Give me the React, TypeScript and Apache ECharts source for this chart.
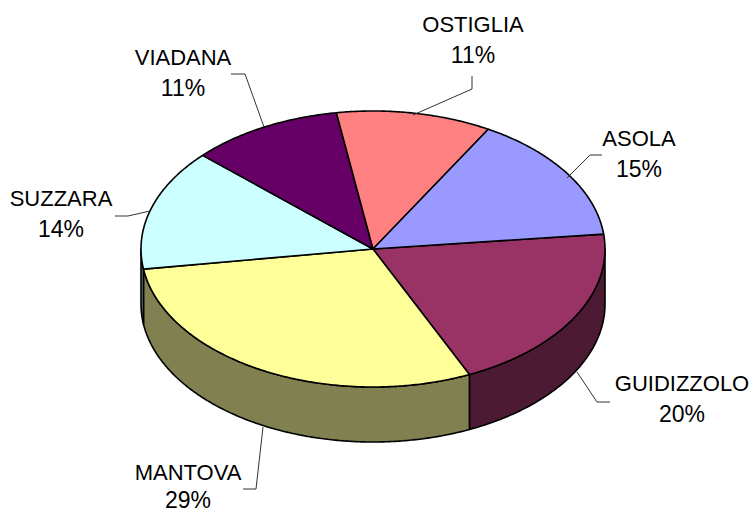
import React, { useEffect, useRef } from "react";
import * as echarts from "echarts";

const categories = ["GUIDIZZOLO", "MANTOVA", "SUZZARA", "VIADANA", "OSTIGLIA", "ASOLA"];
const values = [19.9, 29.49, 14.2, 10.6, 10.8, 15];
const topColors = ["#993366", "#FFFF99", "#CCFFFF", "#660066", "#FF8080", "#9999FF"];
const wallColors = ["#4D1A33", "#808050", "#668080", "#330033", "#804040", "#4D4D80"];
const labelCenters = [[682, 383], [188, 472], [61, 198], [183, 57], [473, 24], [639, 138]];
const percentCentersY = [414, 500, 229, 88, 55, 169];
const leaders = [
  [[610, 402], [597, 402], [577, 372]],
  [[243, 489], [256, 489], [263, 427]],
  [[115, 216], [128, 216], [150, 211]],
  [[231, 74], [245, 74], [264, 127]],
  [[472, 76], [472, 89], [413, 115]],
  [[602, 155], [590, 155], [567, 178]],
];

const CX = 373, CY = 249, RX = 232, RY = 138, DEPTH = 55, START = -6.2;
const FONT = '"Liberation Sans", Arial, sans-serif';
const total = values.reduce((a, b) => a + b, 0);
const angles: number[] = [START];
values.forEach((v, i) => angles.push(angles[i] + (v / total) * 360));

const pt = (deg: number, dy = 0) => {
  const r = (deg * Math.PI) / 180;
  return [CX + RX * Math.cos(r), CY + RY * Math.sin(r) + dy];
};
const arc = (a0: number, a1: number, dy = 0) => {
  const n = Math.max(2, Math.ceil(Math.abs(a1 - a0) * 2));
  return Array.from({ length: n + 1 }, (_, k) => pt(a0 + ((a1 - a0) * k) / n, dy));
};
const lineStyle = { stroke: "#000", lineWidth: 1.6, lineJoin: "round" };

export default function App() {
  const ref = useRef<HTMLDivElement>(null);
  useEffect(() => {
    const chart = echarts.init(ref.current!, null, { renderer: "svg" });
    const seriesData = values.map((v, i) => ({ name: categories[i], value: [i, v] }));
    chart.setOption({
      animation: false,
      backgroundColor: "#fff",
      series: [
        {
          type: "custom",
          coordinateSystem: "none",
          silent: true,
          z: 1,
          data: seriesData,
          renderItem: (p: any) => {
            const i = p.dataIndex;
            const a0 = Math.max(angles[i], 0);
            const a1 = Math.min(angles[i + 1], 180);
            if (a1 <= a0) return { type: "group", children: [] };
            const points = [...arc(a0, a1), ...arc(a1, a0, DEPTH)];
            return { type: "polygon", shape: { points }, style: { fill: wallColors[i], ...lineStyle } };
          },
        },
        {
          type: "custom",
          coordinateSystem: "none",
          silent: true,
          z: 2,
          data: seriesData,
          renderItem: (p: any) => {
            const i = p.dataIndex;
            const points = [[CX, CY], ...arc(angles[i], angles[i + 1])];
            return { type: "polygon", shape: { points }, style: { fill: topColors[i], ...lineStyle } };
          },
        },
      ],
      graphic: {
        elements: [
          ...leaders.map((points) => ({
            type: "polyline",
            z: 3,
            silent: true,
            shape: { points },
            style: { stroke: "#333", lineWidth: 1, fill: "none" },
          })),
          ...categories.flatMap((c, i) => [
            {
              type: "text",
              z: 4,
              x: labelCenters[i][0],
              y: labelCenters[i][1],
              style: { text: c, font: `22px ${FONT}`, fill: "#000", align: "center", verticalAlign: "middle", lineHeight: 20 },
            },
            {
              type: "text",
              z: 4,
              x: labelCenters[i][0],
              y: percentCentersY[i],
              style: {
                text: `${Math.round(values[i])}%`,
                font: `23px ${FONT}`,
                fill: "#000",
                align: "center",
                verticalAlign: "middle",
                lineHeight: 20,
              },
            },
          ]),
        ],
      },
    });
    return () => chart.dispose();
  }, []);
  return <div ref={ref} style={{ position: "fixed", left: 0, top: 0, width: 756, height: 513 }} />;
}
